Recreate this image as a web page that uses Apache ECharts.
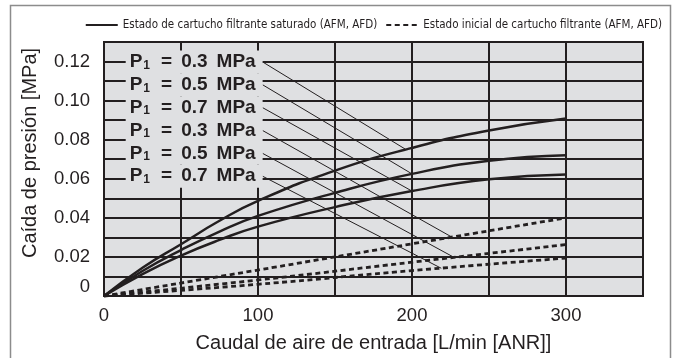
<!DOCTYPE html>
<html>
<head>
<meta charset="utf-8">
<script src="https://cdn.jsdelivr.net/npm/echarts@6/dist/echarts.min.js"></script>
<style>
  html, body { margin: 0; padding: 0; background: #fff; }
  #chart { width: 677px; height: 358px; }
</style>
</head>
<body>
<div id="chart"></div>
<script>
// caudal [L/min (ANR)]
const flowSat = [0, 25, 50, 75, 100, 150, 200, 250, 300];
// estado saturado, caída de presión [MPa]
const satP03 = [0, 0.0145, 0.0265, 0.0385, 0.0487, 0.0642, 0.0758, 0.0847, 0.0908];
const satP05 = [0, 0.0128, 0.0235, 0.033, 0.041, 0.0528, 0.0625, 0.0692, 0.072];
const satP07 = [0, 0.0112, 0.0207, 0.0287, 0.0355, 0.0455, 0.0537, 0.0597, 0.0622];

const flowIni = [0, 100, 200, 300];
// estado inicial
const iniP03 = [0, 0.0133, 0.0267, 0.04];
const iniP05 = [0, 0.0082, 0.0173, 0.0263];
const iniP07 = [0, 0.006, 0.013, 0.0194];

// rótulos P1 y sus líneas de referencia
const labelPress = ["0.3", "0.5", "0.7", "0.3", "0.5", "0.7"];
const labelX = 103;
const labelY = [0.1198, 0.1081, 0.0964, 0.0847, 0.073, 0.0613];
const leaderEndX = [196, 200, 200, 226, 227, 219];
const leaderEndY = [0.075, 0.0625, 0.0537, 0.0301, 0.0199, 0.0142];

const xTicks = [0, 100, 200, 300];

const satName = "Estado de cartucho filtrante saturado (AFM, AFD)";
const iniName = "Estado inicial de cartucho filtrante (AFM, AFD)";

const ink = "#231f20";
const font = "Liberation Sans, Arial, Helvetica, sans-serif";

function pairs(xs, ys) {
  return xs.map((x, i) => [x, ys[i]]);
}

const series = [];
[satP03, satP05, satP07].forEach((d) => {
  series.push({
    name: satName,
    type: "line",
    data: pairs(flowSat, d),
    smooth: true,
    symbol: "none",
    lineStyle: { color: ink, width: 2.5 },
    itemStyle: { color: ink },
    z: 5,
  });
});
[iniP03, iniP05, iniP07].forEach((d) => {
  series.push({
    name: iniName,
    type: "line",
    data: pairs(flowIni, d),
    smooth: true,
    symbol: "none",
    lineStyle: { color: ink, width: 2.8, type: [5, 3.5] },
    itemStyle: { color: ink },
    z: 5,
  });
});
// líneas de referencia finas
labelY.forEach((y, i) => {
  series.push({
    type: "line",
    data: [
      [labelX, y],
      [leaderEndX[i], leaderEndY[i]],
    ],
    symbol: "none",
    silent: true,
    lineStyle: { color: ink, width: 1 },
    z: 4,
  });
});
// rótulos
const bold = { fontFamily: font, fontWeight: "bold", fontSize: 19, color: ink, lineHeight: 23 };
series.push({
  type: "scatter",
  symbolSize: 0,
  silent: true,
  z: 10,
  itemStyle: { opacity: 1 },
  data: labelY.map((y, i) => ({ value: [labelX, y], press: labelPress[i] })),
  label: {
    show: true,
    position: "left",
    distance: 0,
    opacity: 1,
    backgroundColor: "#dfe0e2",
    padding: [0, 7, 0, 4],
    formatter: function (p) {
      return "{b|P}{s|1}{e|=}{b|" + p.data.press + "}{m|MPa}";
    },
    rich: {
      b: bold,
      e: Object.assign({}, bold, { padding: [0, 9, 0, 9] }),
      m: Object.assign({}, bold, { padding: [0, 0, 0, 9] }),
      s: {
        fontFamily: font,
        fontWeight: "bold",
        fontSize: 12,
        color: ink,
        lineHeight: 16,
        padding: [7, 2, 0, 1],
      },
    },
  },
});

const chart = echarts.init(document.getElementById("chart"));
chart.setOption({
  animation: false,
  backgroundColor: "#fff",
  graphic: [
    {
      type: "rect",
      left: 8,
      top: 3,
      shape: { width: 660, height: 370 },
      style: { fill: "none", stroke: "#8c8c8c", lineWidth: 1.5 },
      silent: true,
    },
  ],
  legend: {
    right: 10,
    top: 14,
    itemWidth: 32,
    itemHeight: 14,
    itemGap: 8,
    itemStyle: { opacity: 0 },
    data: [satName, iniName],
    textStyle: {
      fontFamily: "Liberation Sans Narrow, DejaVu Sans Condensed, Liberation Sans, sans-serif",
      fontSize: 11.5,
      color: ink,
    },
  },
  grid: {
    left: 104,
    right: 34,
    top: 42,
    bottom: 60.5,
    show: true,
    backgroundColor: "#dfe0e2",
    borderColor: ink,
    borderWidth: 2,
  },
  xAxis: {
    type: "value",
    min: 0,
    max: 350,
    interval: 50,
    name: "Caudal de aire de entrada [L/min [ANR]]",
    nameLocation: "middle",
    nameGap: 37,
    nameTextStyle: { fontFamily: font, fontSize: 20, color: ink },
    axisLine: { lineStyle: { color: ink, width: 2 } },
    axisTick: { show: false },
    splitLine: { lineStyle: { color: ink, width: 2 } },
    axisLabel: {
      margin: 10,
      fontFamily: font,
      fontSize: 18.5,
      color: ink,
      formatter: (v) => (xTicks.indexOf(v) >= 0 ? String(v) : ""),
    },
  },
  yAxis: {
    type: "value",
    min: 0,
    max: 0.13,
    interval: 0.01,
    name: "Caída de presión [MPa]",
    nameLocation: "middle",
    nameGap: 64,
    nameTextStyle: { fontFamily: font, fontSize: 20, color: ink, padding: [0, 0, 0, 32] },
    axisLine: { lineStyle: { color: ink, width: 2 } },
    axisTick: { show: false },
    splitLine: { lineStyle: { color: ink, width: 2 } },
    axisLabel: {
      margin: 14,
      fontFamily: font,
      fontSize: 18.5,
      color: ink,
      formatter: function (v) {
        const k = Math.round(v * 100);
        if (k % 2 !== 0) return "";
        if (k === 0) return "{z|0}";
        return (k / 100).toFixed(2);
      },
      rich: {
        z: { fontFamily: font, fontSize: 18.5, color: ink, padding: [0, 0, 19, 0] },
      },
    },
  },
  series: series,
});
</script>
</body>
</html>
